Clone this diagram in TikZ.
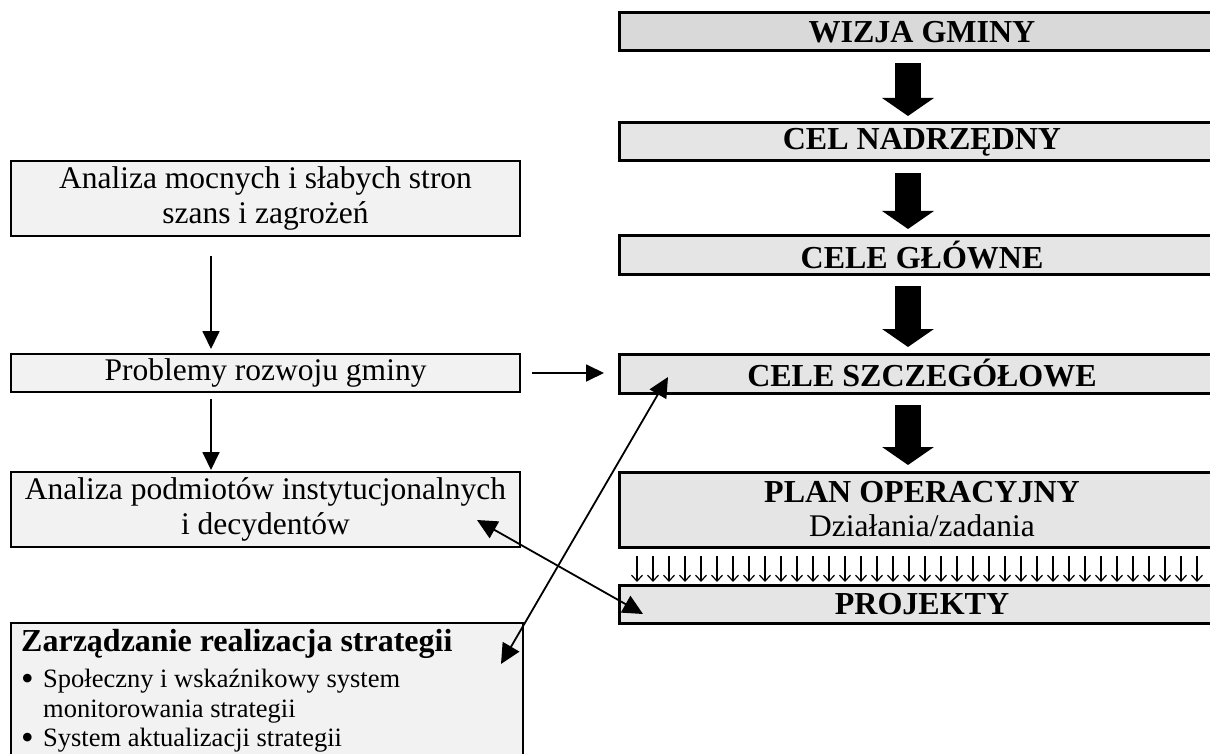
\documentclass[tikz,border=0pt]{standalone}
\usepackage{fontspec}
\setmainfont{Liberation Serif}
\usetikzlibrary{arrows.meta,calc}
\definecolor{fillW}{HTML}{D9D9D9}
\definecolor{fillR}{HTML}{E5E5E5}
\definecolor{fillL}{HTML}{F2F2F2}
\newcommand{\titlef}{\fontsize{32}{36}\selectfont\bfseries}
\newcommand{\regf}{\fontsize{31.5}{35}\selectfont}
\newcommand{\smallf}{\fontsize{26.5}{29.5}\selectfont}
\newcommand{\bigdot}{\makebox[22pt][l]{\raisebox{-3pt}{\fontsize{36}{30}\selectfont •}}}
\begin{document}
\begin{tikzpicture}[x=1pt,y=-1pt,
  rbox/.style={draw, line width=3pt, fill=fillR, minimum width=606pt, minimum height=38pt,
    anchor=north west, inner sep=0pt, outer sep=0pt, align=center, font=\titlef},
  lbox/.style={draw, line width=2.5pt, fill=fillL, minimum width=509pt, minimum height=38pt,
    anchor=north west, inner sep=0pt, outer sep=0pt, align=center, font=\regf},
  bigarrow/.style={line width=26pt, -{Triangle[length=18pt,width=51pt]}},
  thinarrow/.style={line width=1.8pt, -{Triangle[length=18pt,width=17pt]}},
  dblarrow/.style={line width=1.8pt, {Triangle[length=20pt,width=19pt]}-{Triangle[length=20pt,width=19pt]}},
  tinyarrow/.style={line width=1.2pt, -{Straight Barb[length=6pt,width=11pt]}}
]
\useasboundingbox (0,0) rectangle (1210,754);
\clip (0,0) rectangle (1210,754);

% right column
\node[rbox, fill=fillW] (wiz) at (619,13) {WIZJA GMINY};
\node[rbox] (cn) at (619,123) {CEL NADRZĘDNY};
\node[rbox] (cg) at (619,236) {CELE GŁÓWNE};
\node[rbox, minimum height=39pt] (cs) at (619,354) {CELE SZCZEGÓŁOWE};
\node[rbox, minimum height=75pt] (plan) at (619,472) {PLAN OPERACYJNY\\[-2pt]{\regf\mdseries Działania/zadania}};
\node[rbox] (proj) at (619,585) {PROJEKTY};

% left column
\node[lbox, minimum height=75pt] (am) at (11,161) {Analiza mocnych i słabych stron\\szans i zagrożeń};
\node[lbox] (pr) at (11,354) {Problemy rozwoju gminy};
\node[lbox, minimum height=75pt] (ap) at (11,472) {Analiza podmiotów instytucjonalnych\\i decydentów};
\node[draw, line width=2pt, fill=fillL, minimum width=512pt, minimum height=180pt,
  anchor=north west, inner sep=0pt, outer sep=0pt] (zr) at (11,623) {};
\node[anchor=north west, inner sep=0pt, align=left, font=\smallf] (zt) at ($(zr.north west)+(10,6)$)
  {{\titlef Zarządzanie realizacja strategii}\\[7pt]
   \bigdot Społeczny i wskaźnikowy system\\
   \hspace*{22pt}monitorowania strategii\\
   \bigdot System aktualizacji strategii};

\coordinate (ax) at (908,0);
\coordinate (lx) at (211,0);

% thick arrows
\draw[bigarrow] ([yshift=-12pt]wiz.south -| ax) -- ([yshift=7pt]cn.north -| ax);
\draw[bigarrow] ([yshift=-12pt]cn.south -| ax) -- ([yshift=7pt]cg.north -| ax);
\draw[bigarrow] ([yshift=-12pt]cg.south -| ax) -- ([yshift=7pt]cs.north -| ax);
\draw[bigarrow] ([yshift=-12pt]cs.south -| ax) -- ([yshift=7pt]plan.north -| ax);

% small arrows plan -> projekty
\foreach \i in {0,...,35}
  \draw[tinyarrow] ($(plan.south west)+(18+16*\i,9)$) -- ($(proj.north west)+(18+16*\i,-3)$);

% left arrows
\draw[thinarrow] ([yshift=-20pt]am.south -| lx) -- ([yshift=5pt]pr.north -| lx);
\draw[thinarrow] ([yshift=-7pt]pr.south -| lx) -- ([yshift=2pt]ap.north -| lx);
\draw[thinarrow] ([xshift=12pt]pr.east) -- ([xshift=-15pt]cs.west |- pr.east);

% diagonal double arrows
\draw[dblarrow] ($(zr.north east)+(-22,41)$) -- ($(cs.south west)+(49,-16)$);
\draw[dblarrow] ($(ap.south east)+(-43,-27)$) -- ($(proj.south west)+(24,-9)$);
\end{tikzpicture}
\end{document}
